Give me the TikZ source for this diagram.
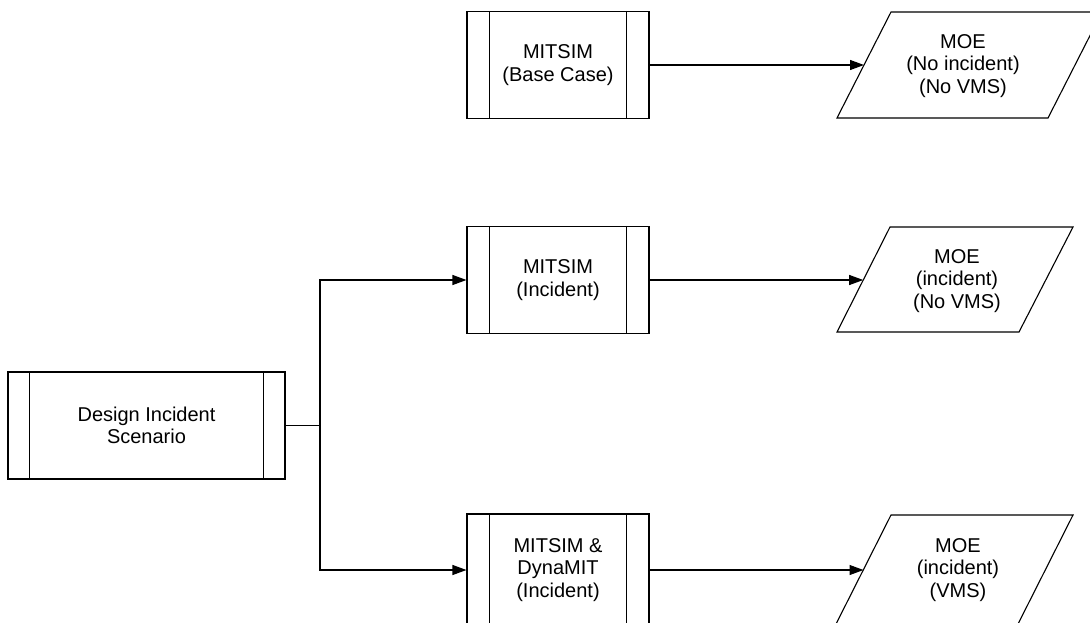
\documentclass[tikz,border=0pt]{standalone}
\usepackage{fontspec}
\setmainfont{Liberation Sans}
\usetikzlibrary{arrows.meta}
\begin{document}
\begin{tikzpicture}[x=1pt,y=-1pt,
  ln/.style={line width=1.1pt},
  arr/.style={ln,-{Triangle[length=14pt,width=10pt]}},
  txt/.style={align=center,inner sep=0pt,font=\fontsize{20}{22.5}\selectfont},
  proc/.style={txt,draw,line width=1.1pt,minimum width=182pt,minimum height=107pt}]
\useasboundingbox (0,0) rectangle (1090,622);
% process boxes
\node[proc] (base) at (558,65) {MITSIM\\(Base Case)};
\node[proc] (inc) at (558,280) {MITSIM\\(Incident)};
\node[proc,minimum height=112pt] (dyn) at (558,570) {MITSIM \&\\DynaMIT\\(Incident)};
\node[proc,minimum width=277pt] (design) at (146.5,425.5) {Design Incident\\Scenario};
\foreach \n/\d in {base/23,inc/23,dyn/23,design/22}{
  \draw[ln] ([xshift=\d pt]\n.north west) -- ([xshift=\d pt]\n.south west);
  \draw[ln] ([xshift=-\d pt]\n.north east) -- ([xshift=-\d pt]\n.south east);
}
% MOE parallelograms
\node[txt] (m1) at (963,66) {MOE\\(No incident)\\(No VMS)};
\draw[ln] (837,118) -- (891,12) -- (1102,12) -- (1048,118) -- cycle;
\coordinate (m1in) at (864,65);
\node[txt] (m2) at (957,281) {MOE\\(incident)\\(No VMS)};
\draw[ln] (837,332) -- (890,227) -- (1073,227) -- (1019,332) -- cycle;
\coordinate (m2in) at (863.2,280);
\node[txt] (m3) at (958,570) {MOE\\(incident)\\(VMS)};
\draw[ln] (834,628) -- (891,515) -- (1073,515) -- (1016,628);
\coordinate (m3in) at (863.5,570);
% connectors
\coordinate (j) at (320,425.5);
\draw[ln] (design.east) -- (j);
\draw[arr] (j) |- (inc.west);
\draw[arr] (j) |- (dyn.west);
\draw[arr] (base.east) -- (m1in);
\draw[arr] (inc.east) -- (m2in);
\draw[arr] (dyn.east) -- (m3in);
\end{tikzpicture}
\end{document}
